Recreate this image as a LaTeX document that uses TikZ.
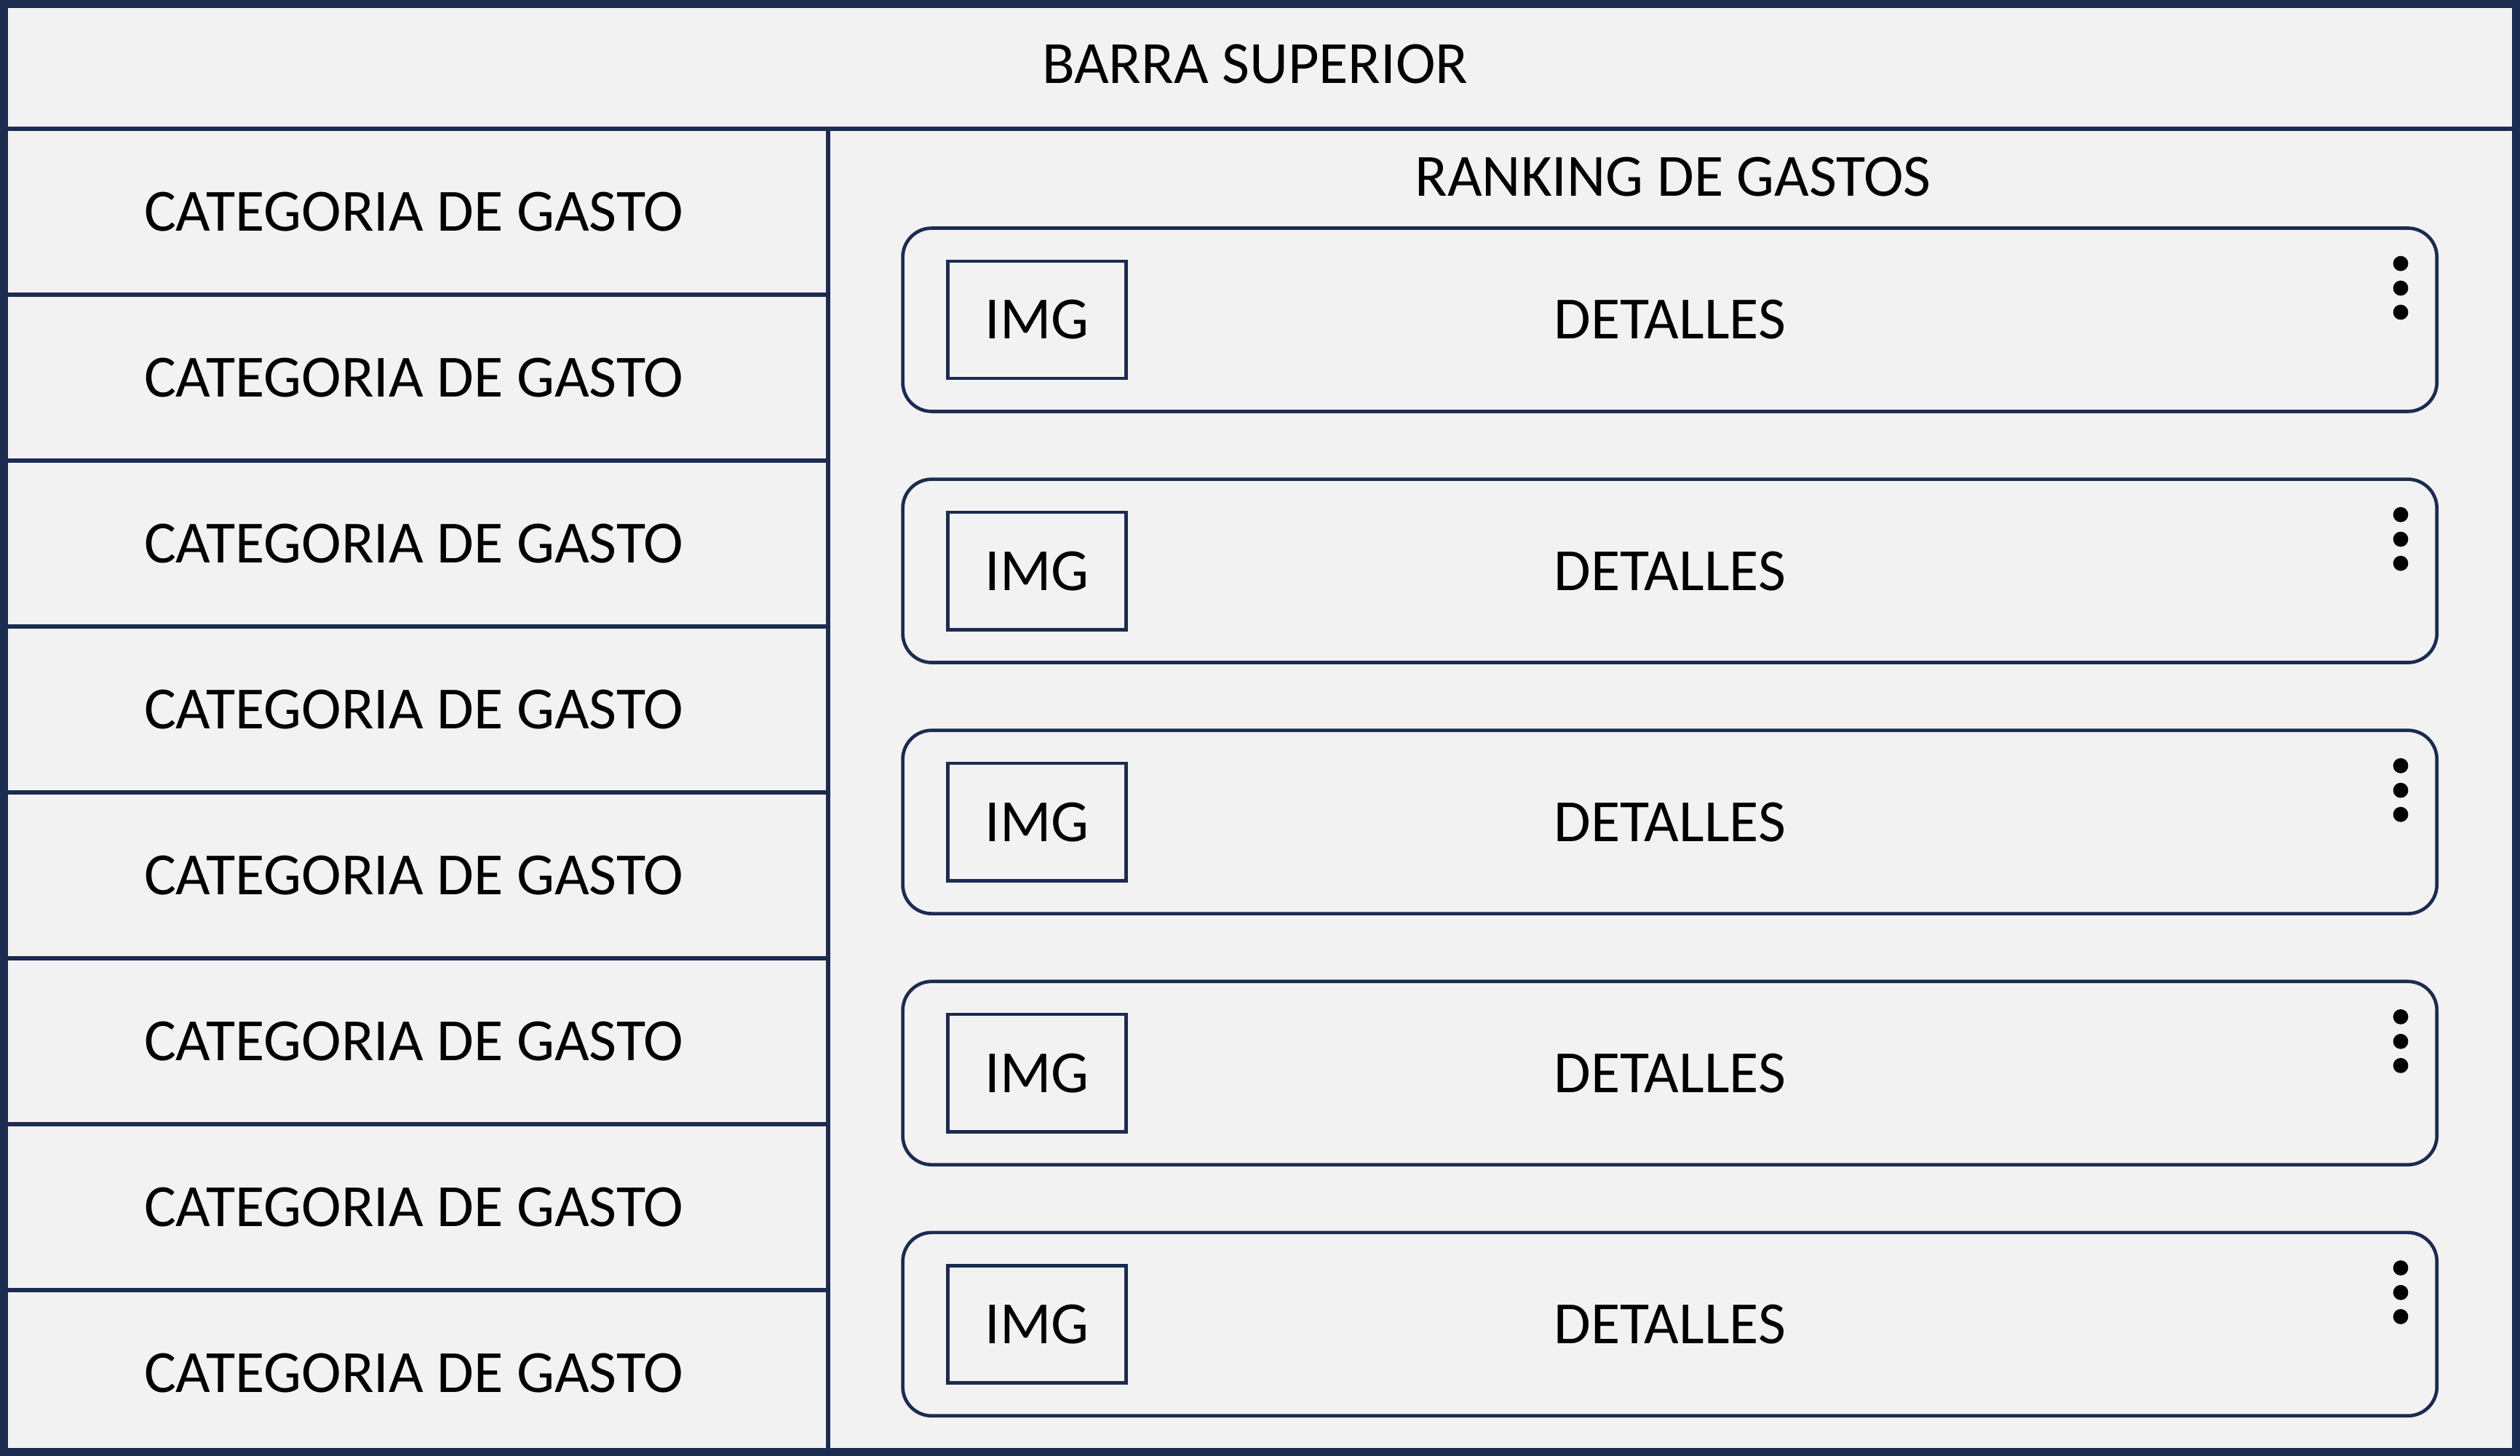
\documentclass[tikz,border=0pt]{standalone}
\usepackage{fontspec}
\setmainfont{Carlito}
\usetikzlibrary{positioning}
\definecolor{navy}{RGB}{28,43,80}
\definecolor{paper}{RGB}{242,242,242}
\tikzset{
  uitext/.style={font=\fontsize{10.6pt}{12pt}\selectfont, inner sep=0pt, outer sep=0pt},
  catbox/.style={uitext, draw=navy, line width=0.75pt, minimum width=5.15cm, minimum height=1.0325cm},
  cardbox/.style={uitext, draw=navy, line width=0.6pt, rounded corners=0.18cm, minimum width=9.54cm, minimum height=1.14cm},
  imgbox/.style={uitext, draw=navy, line width=0.6pt, minimum width=1.11cm, minimum height=0.73cm},
  menudot/.style={fill=black},
}
\begin{document}
\begin{tikzpicture}[x=0.01cm, y=-0.01cm]
  \useasboundingbox (0,0) rectangle (1568,906);
  \fill[paper] (0,0) rectangle (1568,906);
  \node[uitext, minimum width=15.68cm, minimum height=0.8cm] (barra) at (784,40) {};
  \node[uitext] (barratext) at (781,40) {BARRA SUPERIOR};
  \foreach \i in {0,...,7}
    \node[catbox] (cat\i) at (257.5,{131.6+103.25*\i}) {CATEGORIA DE GASTO};
  \draw[navy, line width=0.75pt] (barra.south west) -- (barra.south east);
  \node[uitext] (ranking) at (1041,110) {RANKING DE GASTOS};
  \foreach \i in {0,...,4} {
    \node[cardbox] (card\i) at (1039,{199+156.25*\i}) {DETALLES};
    \node[imgbox, right=0.28cm of card\i.west] (img\i) {IMG};
    \foreach \d in {0.22,0.373,0.523}
      \fill[menudot] ([xshift=-0.225cm, yshift=-\d cm]card\i.north east) circle (0.047cm);
  }
  \draw[navy, line width=0.05cm] (2.5,2.5) rectangle (1565.5,903.5);
\end{tikzpicture}
\end{document}
